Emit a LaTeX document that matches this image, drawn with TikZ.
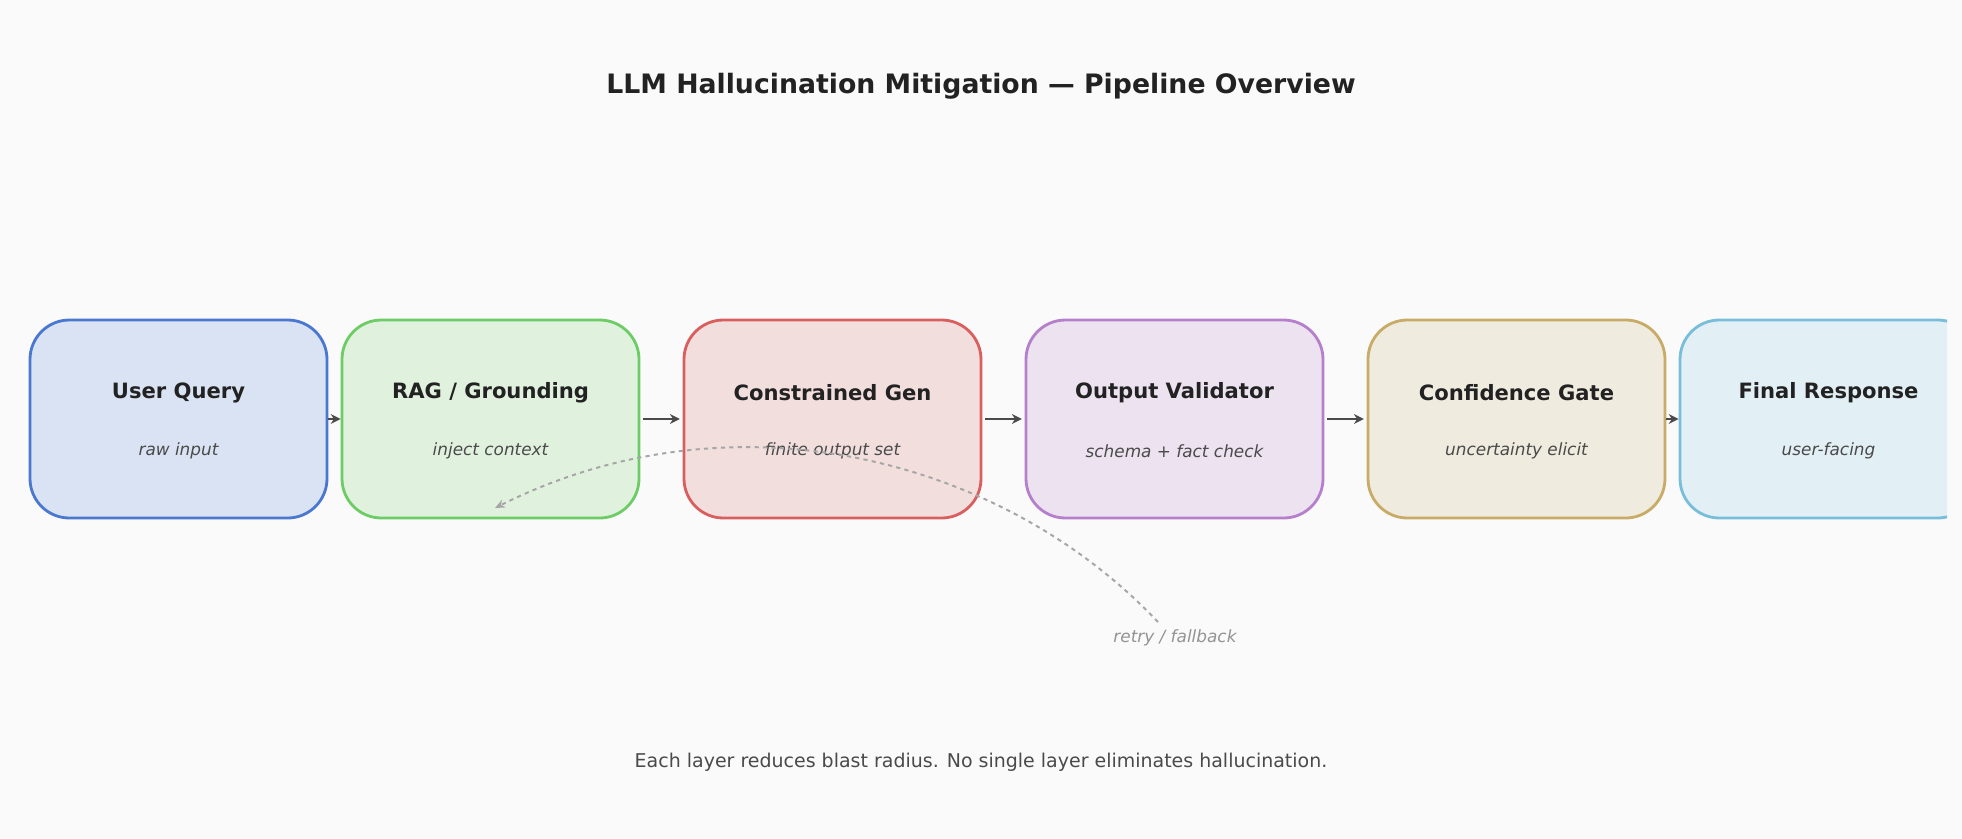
\documentclass[tikz,border=0pt]{standalone}
\usepackage{fontspec}
\setmainfont{DejaVu Sans}
\usetikzlibrary{arrows.meta}
\definecolor{bg}{HTML}{FAFAFA}
\definecolor{txt}{HTML}{222222}
\definecolor{sub}{HTML}{4A4A4A}
\definecolor{arr}{HTML}{4A4A4A}
\definecolor{fa}{HTML}{DAE3F3}\definecolor{sa}{HTML}{4A78D0}
\definecolor{fb}{HTML}{E0F2DE}\definecolor{sb}{HTML}{6DCC66}
\definecolor{fc}{HTML}{F3DEDE}\definecolor{sc}{HTML}{D95F5F}
\definecolor{fd}{HTML}{EDE2F0}\definecolor{sd}{HTML}{B57FCC}
\definecolor{fe}{HTML}{F0EBDF}\definecolor{se}{HTML}{C8AB66}
\definecolor{ff}{HTML}{E2EFF5}\definecolor{sf}{HTML}{78BEDB}
\tikzset{
 stage/.style={draw=#1, line width=2pt, rounded corners=28pt, minimum width=297*0.025cm, minimum height=198*0.025cm, inner sep=0pt},
 ttl/.style={font=\bfseries\fontsize{15}{18}\selectfont, text=txt},
 subl/.style={font=\itshape\fontsize{12}{14}\selectfont, text=sub},
 flow/.style={-{Stealth[length=7pt,width=7pt]}, draw=arr, line width=2pt},
}
\begin{document}
\begin{tikzpicture}[x=0.025cm,y=-0.025cm]
\fill[bg] (0,0) rectangle (1962,838);
\useasboundingbox (0,0) rectangle (1962,838);
\node[font=\bfseries\fontsize{19}{23}\selectfont, text=txt] (title) at (981,86) {LLM Hallucination Mitigation — Pipeline Overview};
\node[stage=sa, fill=fa] (b1) at (178.5,419) {};
\node[stage=sb, fill=fb] (b2) at (490.5,419) {};
\node[stage=sc, fill=fc] (b3) at (832.5,419) {};
\node[stage=sd, fill=fd] (b4) at (1174.5,419) {};
\node[stage=se, fill=fe] (b5) at (1516.5,419) {};
\begin{scope}
\clip (0,0) rectangle (1947,838);
\node[stage=sf, fill=ff] (b6) at (1828.5,419) {};
\end{scope}
\node[ttl] (b1t) at (178.5,393) {User Query};
\node[subl] (b1s) at (178.5,451) {raw input};
\node[ttl] (b2t) at (490.5,393) {RAG / Grounding};
\node[subl] (b2s) at (490.5,451) {inject context};
\node[ttl] (b3t) at (832.5,393) {Constrained Gen};
\node[subl] (b3s) at (832.5,451) {finite output set};
\node[ttl] (b4t) at (1174.5,393) {Output Validator};
\node[subl] (b4s) at (1174.5,451) {schema + fact check};
\node[ttl] (b5t) at (1516.5,393) {Confidence Gate};
\node[subl] (b5s) at (1516.5,451) {uncertainty elicit};
\node[ttl] (b6t) at (1828.5,393) {Final Response};
\node[subl] (b6s) at (1828.5,451) {user-facing};
\draw[flow] (b1.east) -- (b2.west);
\draw[flow] ([xshift=2pt]b2.east) -- ([xshift=-2pt]b3.west);
\draw[flow] ([xshift=2pt]b3.east) -- ([xshift=-2pt]b4.west);
\draw[flow] ([xshift=2pt]b4.east) -- ([xshift=-2pt]b5.west);
\draw[flow] (b5.east) -- (b6.west);
\node[font=\itshape\fontsize{12}{14}\selectfont, text=gray!85] (rl) at (1175,638) {retry / fallback};
\coordinate (rs) at (1158,622);
\coordinate (re) at (495,508);
\draw[dashed, draw=gray!70, line width=1.4pt, -{Stealth[length=7pt,width=6pt]}] (rs) .. controls (1000,455) and (730,390) .. (re);
\node[font=\fontsize{13.5}{16}\selectfont, text=sub] (foot) at (981,762) {Each layer reduces blast radius. No single layer eliminates hallucination.};
\end{tikzpicture}
\end{document}
